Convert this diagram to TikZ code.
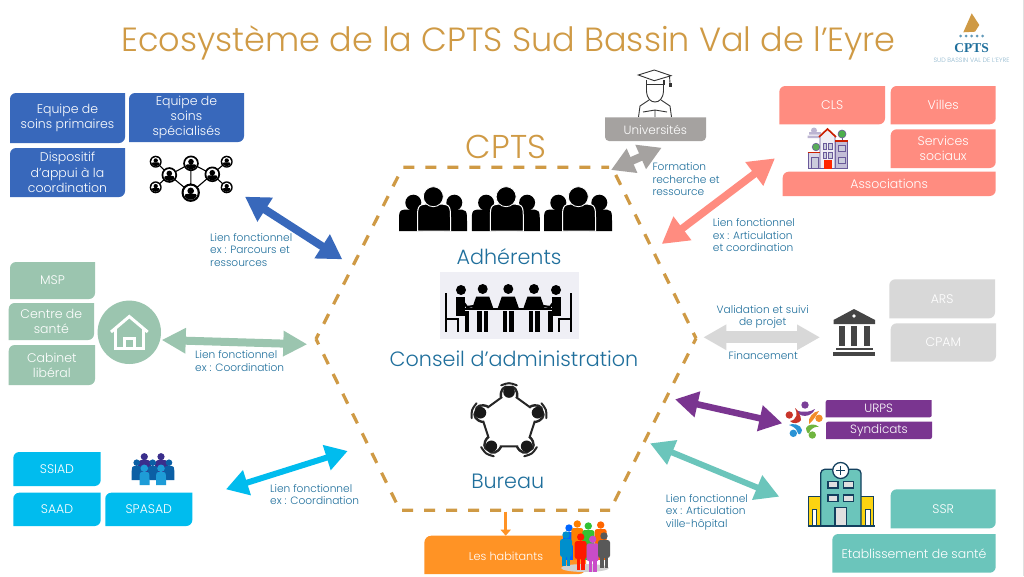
\documentclass[tikz,border=0pt]{standalone}
\usepackage{fontspec}
\setmainfont{Poppins Light}
\newfontfamily\logoserif{Liberation Serif}
\usetikzlibrary{arrows.meta}
\definecolor{gold}{HTML}{CF9A45}
\definecolor{labelblue}{HTML}{1F6F9C}
\definecolor{cblue}{HTML}{3868BB}
\definecolor{cgreen}{HTML}{9BC5AF}
\definecolor{ccyan}{HTML}{00BCEE}
\definecolor{cgrey}{HTML}{A5A2A0}
\definecolor{csalmon}{HTML}{FF8C80}
\definecolor{clight}{HTML}{D8D8D8}
\definecolor{cpurple}{HTML}{7A3590}
\definecolor{cteal}{HTML}{6BC5BB}
\definecolor{corange}{HTML}{FF9325}
\definecolor{bline}{HTML}{6A5A9A}
\definecolor{hnavy}{HTML}{13405E}
\definecolor{tablebg}{HTML}{EFEFF5}
\tikzset{
  lab/.style={text=labelblue,align=left,anchor=west,inner sep=0pt,font=\fontsize{10.6}{12.6}\selectfont},
  labc/.style={text=labelblue,align=center,inner sep=0pt,font=\fontsize{10.6}{12.6}\selectfont},
  boxtext/.style={text=white,align=center,inner sep=0pt,font=\fontsize{12.5}{15.3}\selectfont},
  bigtext/.style={text=labelblue,inner sep=0pt,font=\fontsize{20.7}{24}\selectfont},
  dbl/.style n args={4}{draw=#1,line width=#2pt,{Triangle[length=#3pt,width=#4pt,fill=#1]}-{Triangle[length=#3pt,width=#4pt,fill=#1]}},
  hexline/.style={draw=gold,line width=3.2pt,dash pattern=on 11pt off 11pt,dash phase=5pt}
}
\def\rr{6pt}
% diagonal-rounded box: name,x1,y1,x2,y2,colour,text
\newcommand\rbox[7]{%
  \fill[#6] (#2,#5) [rounded corners=\rr] -- (#2,#3) [sharp corners] -- (#4,#3) [rounded corners=\rr] -- (#4,#5) [sharp corners] -- cycle;
  \node[boxtext] (#1) at ({(#2+#4)/2},{(#3+#5)/2}) {#7};
}
% dome-shaped body: style,x1,x2,ytop,ybottom
\newcommand\bsh[5]{%
  \pgfmathsetmacro\bxa{#2}\pgfmathsetmacro\bxb{#3}\pgfmathsetmacro\byt{#4}\pgfmathsetmacro\byb{#5}%
  \pgfmathsetmacro\bym{\byt*0.4+\byb*0.6}\pgfmathsetmacro\bxm{(\bxa+\bxb)/2}%
  \path[#1] (\bxa,\byb) -- (\bxa,\bym) .. controls (\bxa,\byt) .. (\bxm,\byt) .. controls (\bxb,\byt) .. (\bxb,\bym) -- (\bxb,\byb) -- cycle;
}
\newcommand\netdisc[4]{%
  \fill[black] (#2,#3) circle [radius=#4];
  \fill[white] (#2,#3) circle [radius=0.76*#4];
  \begin{scope}
    \clip (#2,#3) circle [radius=0.76*#4];
    \fill[black] ({#2},{#3-0.2*#4}) circle [radius=0.36*#4];
    \bsh{fill=black}{#2-0.65*#4}{#2+0.65*#4}{#3+0.12*#4}{#3+0.8*#4}
  \end{scope}
}
\newcommand\trio{%
  \bsh{fill=black}{399}{423}{209.5}{231}
  \bsh{fill=black}{444}{467}{209.5}{231}
  \fill[black] (413.3,202.7) circle [radius=8];
  \fill[black] (454.3,202.7) circle [radius=8];
  \bsh{fill=black,draw=white,line width=1pt}{417.5}{450.5}{204}{231}
  \fill[black,draw=white,line width=0.8pt] (433.3,196.7) circle [radius=10];
}
\newcommand\tableperson[1]{%
  \fill[black] (#1,289) circle [radius=5];
  \fill[black] ({#1-10.5},308) -- ({#1-6.5},296.5) -- ({#1+6.5},296.5) -- ({#1+10.5},308) -- cycle;
  \fill[black] ({#1-5.5},311) rectangle ({#1-1},332);
  \fill[black] ({#1+1},311) rectangle ({#1+5.5},332);
}
\newcommand\sideperson{%
  \fill[black] (461,290) circle [radius=5];
  \fill[black] (456,297) rectangle (465,314);
  \draw[black,line width=2.2pt] (461,299) -- (467,307) -- (474,306);
  \fill[black] (456,311) rectangle (469,316);
  \fill[black] (464.5,313) rectangle (469,332);
  \draw[black,line width=2pt] (446,293) -- (446,332);
  \draw[black,line width=2pt] (446,319) -- (458,319) -- (458,332);
}
\newcommand\fig[4]{% x, head y, bottom y, colour
  \fill[#4] (#1,#2) circle [radius=3.7];
  \fill[#4,rounded corners=2.5pt] ({#1-6},{#2+4}) rectangle ({#1+6},{#2+22});
  \fill[#4] ({#1-4},{#2+18}) rectangle ({#1-0.5},#3);
  \fill[#4] ({#1+0.5},{#2+18}) rectangle ({#1+4},#3);
}
\begin{document}
\begin{tikzpicture}[x=1pt,y=-1pt]
\useasboundingbox (0,0) rectangle (1024,576);
\fill[white] (0,0) rectangle (1024,576);
\draw[black!12,line width=0.8pt] (1023,0) -- (1023,576);

% title
\node[text=gold,inner sep=0pt,font=\fontsize{33.5}{40}\selectfont] (title) at (508.5,43) {Ecosystème de la CPTS Sud Bassin Val de l’Eyre};

% logo
\fill[gold] (971.7,13.3) -- (963.3,32.3) -- (975,31.7) -- (979.3,25) -- cycle;
\foreach \dx in {960.5,966,971.5,977,982.5} \fill[labelblue!70] (\dx,36) circle [radius=1.5];
\node[text=labelblue,inner sep=0pt,font=\logoserif\bfseries\fontsize{13.5}{14}\selectfont] (logocpts) at (971.5,48.5) {CPTS};
\node[text=labelblue!50,inner sep=0pt,font=\fontsize{6.3}{7}\selectfont] (logosub) at (971.5,60) {SUD BASSIN VAL DE L’EYRE};

% hexagon
\coordinate (hexTL) at (402.7,167.3);
\coordinate (hexTR) at (609,167.3);
\coordinate (hexTRb) at (612,167.3);
\coordinate (hexR) at (696,338.3);
\coordinate (hexBR) at (610,510.3);
\coordinate (hexBL) at (400,510.3);
\coordinate (hexL) at (316,339);
\draw[hexline] (hexL) -- (hexTL) -- (hexTR);
\draw[hexline] (hexL) -- (hexBL) -- (hexBR);
\draw[hexline] (hexR) -- (hexTRb);
\draw[hexline] (hexR) -- (hexBR);

\node[text=gold,inner sep=0pt,font=\fontsize{33}{38}\selectfont] (cpts) at (506,146.5) {CPTS};

% members
\begin{scope}\trio\end{scope}
\begin{scope}[shift={(72.8,0)}]\trio\end{scope}
\begin{scope}[shift={(145,0)}]\trio\end{scope}
\node[bigtext] (adh) at (509,257) {Adhérents};

% board table
\fill[tablebg] (440,272) rectangle (579,339);
\tableperson{482.7}\tableperson{508.3}\tableperson{534}
\draw[black,line width=1.5pt] (462,309) -- (555,309);
\begin{scope}\sideperson\end{scope}
\begin{scope}[shift={(1017,0)},xscale=-1]\sideperson\end{scope}
\node[bigtext] (ca) at (514,359) {Conseil d’administration};

% bureau
\foreach \i/\a in {1/90,2/162,3/234,4/306,5/378}
  \coordinate (bp\i) at ({509+30*cos(\a)},{422-30*sin(\a)});
\draw[black!85,line width=2pt] (bp1) -- (bp2) -- (bp3) -- (bp4) -- (bp5) -- cycle;
\foreach \i/\a in {1/90,2/162,3/234,4/306,5/378}{
  \fill[white] (bp\i) circle [radius=8.5];
  \draw[black!85,line width=2pt,line cap=round] ({509+37.5*cos(\a-12)},{422-37.5*sin(\a-12)}) .. controls ({509+39.5*cos(\a)},{422-39.5*sin(\a)}) .. ({509+37.5*cos(\a+12)},{422-37.5*sin(\a+12)});
  \draw[black!85,line width=2.4pt] ({509+26*cos(\a-18)},{422-26*sin(\a-18)}) .. controls ({509+33*cos(\a-16)},{422-33*sin(\a-16)}) and ({509+37*cos(\a-8)},{422-37*sin(\a-8)}) .. ({509+35*cos(\a)},{422-35*sin(\a)}) .. controls ({509+37*cos(\a+8)},{422-37*sin(\a+8)}) and ({509+33*cos(\a+16)},{422-33*sin(\a+16)}) .. ({509+26*cos(\a+18)},{422-26*sin(\a+18)});
  \fill[black!90] (bp\i) circle [radius=5.8];
}
\node[bigtext] (bureau) at (507.7,481) {Bureau};

% inhabitants
\fill[corange] (424.3,574) [rounded corners=7pt] -- (424.3,535.7) [sharp corners] -- (586,535.7) [rounded corners=7pt] -- (586,574) [sharp corners] -- cycle;
\node[text=white,inner sep=0pt,font=\fontsize{11.3}{14}\selectfont] (hab) at (506,556) {Les habitants};
\coordinate (habTop) at (505.7,535.7);
\coordinate (hexBottom) at (505.7,511.5);
\draw[corange,line width=3pt,-{Triangle[length=6pt,width=10pt,fill=corange]}] (hexBottom) -- (habTop);
\fill[black!18] (585,568) ellipse [x radius=24,y radius=4];
\fig{569}{528}{560}{blue!60!cyan}
\fig{577.3}{524}{560}{orange}
\fig{588.3}{526}{560}{green!70!black!80}
\fig{600.7}{525}{560}{orange!80!red}
\fig{566}{535}{566}{blue!30!cyan!80!black}
\fig{580.7}{537}{570}{red!80!orange}
\fig{592.7}{539.3}{572}{violet!60!magenta!70!white}
\fig{604}{536}{568}{black!65}

% ---- left top
\rbox{bA}{10}{93}{125}{143}{cblue}{Equipe de\\soins primaires}
\rbox{bB}{129}{93}{244}{142}{cblue}{Equipe de\\soins\\spécialisés}
\rbox{bC}{10}{148}{125}{197}{cblue}{Dispositif\\d’appui à la\\coordination}
\coordinate (n1) at (155.7,161.7);
\coordinate (n2) at (169.3,175);
\coordinate (n3) at (191,163.3);
\coordinate (n4) at (212.3,174.3);
\coordinate (n5) at (226.7,161.7);
\coordinate (n6) at (226.7,187.3);
\coordinate (n7) at (155.7,187.3);
\coordinate (n8) at (190.7,192.7);
\draw[black,line width=1.1pt] (n1)--(n2)--(n3)--(n4)--(n5) (n7)--(n2)--(n8)--(n4)--(n6) (n3)--(n8);
\netdisc{n1}{155.7}{161.7}{6}
\netdisc{n7}{155.7}{187.3}{6}
\netdisc{n5}{226.7}{161.7}{6}
\netdisc{n6}{226.7}{187.3}{6}
\netdisc{n2}{169.3}{175}{7.8}
\netdisc{n4}{212.3}{174.3}{7.8}
\netdisc{n3}{191}{163.3}{7.8}
\netdisc{n8}{190.7}{192.7}{9.2}
\coordinate (aBlueA) at (245,196.7);
\coordinate (aBlueB) at (342.3,259.3);
\draw[dbl={cblue}{8}{24}{27}] (aBlueA) -- (aBlueB);
\node[lab] (lBlue) at (210,250) {Lien fonctionnel\\ex : Parcours et\\ressources};

% ---- left middle
\rbox{gA}{10}{262}{95}{299}{cgreen}{MSP}
\rbox{gB}{8.7}{303}{94}{340}{cgreen}{Centre de\\santé}
\rbox{gC}{8.7}{345}{95}{385}{cgreen}{Cabinet\\libéral}
\node[circle,fill=cgreen,minimum size=63.4pt,inner sep=0pt] (home) at (129.3,332.3) {};
\draw[white,line width=3pt] (111,332) -- (129.3,316.5) -- (147.7,332);
\draw[white,line width=3pt] (115.5,329) -- (115.5,348) -- (143,348) -- (143,329);
\draw[white,line width=3pt] (124.5,348) -- (124.5,338) -- (134,338) -- (134,348);
\coordinate (aGreenA) at (161.7,340);
\coordinate (aGreenB) at (307.3,344.3);
\draw[dbl={cgreen}{8}{24}{24}] (aGreenA) -- (aGreenB);
\node[lab] (lGreen) at (195,361.3) {Lien fonctionnel\\ex : Coordination};

% ---- left bottom
\rbox{cA}{13.3}{452}{100.7}{486}{ccyan}{SSIAD}
\rbox{cB}{13.3}{492.7}{100.7}{526}{ccyan}{SAAD}
\rbox{cC}{105.3}{492.7}{192.3}{526}{ccyan}{SPASAD}
\definecolor{pa}{HTML}{3A2E8C}\definecolor{pb}{HTML}{0B5FA5}\definecolor{pc}{HTML}{1E9CD7}
\fill[pa] (144.3,456.7) circle [radius=3.6];
\fill[pa] (161,456.7) circle [radius=3.6];
\bsh{fill=pa}{138}{151}{460}{476}
\bsh{fill=pa}{155}{168}{460}{476}
\fill[pb] (136.7,462.7) circle [radius=3.3];
\fill[pb] (152.7,462.7) circle [radius=3.3];
\fill[pb] (169,462.7) circle [radius=3.3];
\bsh{fill=pb}{131.7}{142}{466}{480}
\bsh{fill=pb}{147.5}{158}{466}{480}
\bsh{fill=pb}{164}{174.3}{466}{480}
\fill[pc] (144.3,468.3) circle [radius=3.8];
\fill[pc] (161,468.3) circle [radius=3.8];
\bsh{fill=pc}{139.5}{149.5}{472}{485}
\bsh{fill=pc}{156}{166}{472}{485}
\coordinate (aCyanA) at (226,489.3);
\coordinate (aCyanB) at (347.7,451);
\draw[dbl={ccyan}{6}{22}{25}] (aCyanA) -- (aCyanB);
\node[lab] (lCyan) at (270,494.6) {Lien fonctionnel\\ex : Coordination};

% ---- universities
\draw[black!80,line width=0.9pt,fill=white] (646.5,80) -- (646.5,91) .. controls (647,99) and (651,102) .. (655,102) .. controls (659,102) and (663,99) .. (663.5,91) -- (663.5,80);
\draw[black!80,line width=0.9pt] (649,100) -- (640,106) -- (638.5,117) (661,100) -- (670,106) -- (671.5,117);
\draw[black!80,line width=0.9pt] (643,112) -- (655,110) -- (667,112) (655,110) -- (655,117);
\draw[black!80,line width=0.9pt,fill=white] (638.3,75) -- (654.3,70) -- (671,75.7) -- (654.3,80.7) -- cycle;
\draw[black!80,line width=0.9pt] (646,80) -- (646,84) -- (664,84) -- (664,80);
\draw[black!80,line width=0.9pt] (669.5,76) -- (670,83);
\fill[black!80] (668.5,83) rectangle (671.5,87);
\fill[cgrey] (605,124) [rounded corners=0pt] -- (605,117.3) -- (706,117.3) [rounded corners=4pt] -- (706,141) -- (605,141) [sharp corners] -- cycle;
\node[text=white,inner sep=0pt,font=\fontsize{12}{14}\selectfont] (uni) at (655.3,130) {Universités};
\coordinate (aUniA) at (611,170);
\coordinate (aUniB) at (661.7,147.7);
\draw[dbl={cgrey}{8}{23}{25}] (aUniA) -- (aUniB);
\node[lab] (lUni) at (652.3,179.3) {Formation\\recherche et\\ressource};

% ---- salmon
\rbox{sA}{779.3}{86}{885}{124.3}{csalmon}{CLS}
\rbox{sB}{890.7}{86}{995.7}{124.3}{csalmon}{Villes}
\rbox{sC}{890.7}{129.3}{995.7}{168}{csalmon}{Services\\sociaux}
\rbox{sD}{782.7}{171.7}{995.7}{196}{csalmon}{Associations}
% town icon
\fill[bline!45] (809,132) rectangle (821,134.5) (807.5,135.5) rectangle (819,138);
\fill[bline!45] (814,130.5) circle [radius=3];
\draw[bline,fill=green!55!black!70!white,line width=0.6pt] (842,134) circle [radius=4];
\draw[bline,line width=0.8pt] (842,138) -- (842,141);
\draw[bline,fill=white!75!bline,line width=0.8pt] (808.5,152) rectangle (820,168.5);
\draw[bline,fill=white!60!bline,line width=0.8pt] (835,141) rectangle (847.5,168.5);
\draw[bline,fill=white!90!bline,line width=0.8pt] (820,136) -- (827.5,129) -- (835,136) -- (835,168.5) -- (820,168.5) -- cycle;
\draw[red!70!orange!80!black,line width=1.6pt] (819,137) -- (827.5,129) -- (836,137);
\draw[red!70!orange!80!black,line width=1.4pt] (807.5,152.5) -- (820,152.5) (835,141) -- (848,141);
\draw[bline,fill=green!50!black!65!white,line width=0.6pt] (816,147) circle [radius=3.8];
\draw[bline,fill=cyan!15!bline!35!white,line width=0.6pt] (823,143) rectangle (826.5,149) (828.5,143) rectangle (832,149) (823,152) rectangle (826.5,158) (828.5,152) rectangle (832,158) (838,145) rectangle (845,151) (838,157) rectangle (845,163) (811,157) rectangle (818,168);
\fill[red!70!orange] (824,160) rectangle (831.5,168.5);
\coordinate (aSalA) at (775,158.3);
\coordinate (aSalB) at (661.7,244);
\draw[dbl={csalmon}{7.5}{26}{28}] (aSalA) -- (aSalB);
\node[lab] (lSal) at (712.7,235.3) {Lien fonctionnel\\ex : Articulation\\et coordination};

% ---- institutions
\rbox{iA}{889.3}{279.3}{995}{318.3}{clight}{ARS}
\rbox{iB}{890.7}{323.3}{996}{361.7}{clight}{CPAM}
\coordinate (aInstA) at (703.3,337.3);
\coordinate (aInstB) at (820,337.3);
\draw[dbl={clight}{12}{23}{24}] (aInstA) -- (aInstB);
\node[labc] (lValid) at (762.7,317) {Validation et suivi\\de projet};
\node[labc] (lFin) at (763.3,356) {Financement};
\fill[black!73] (854,309) -- (875,320) -- (875,324) -- (833.5,324) -- (833.5,320) -- cycle;
\fill[white] (854,316) circle [radius=1.8];
\fill[black!73] (838.5,326) rectangle (844.5,346);
\fill[black!73] (851,326) rectangle (857,346);
\fill[black!73] (864,326) rectangle (870,346);
\fill[black!73] (836,347.5) rectangle (873,350);
\fill[black!73] (833.3,352) rectangle (875,356);

% ---- unions
\def\rr{2pt}
\rbox{uA}{825.7}{400}{931.7}{417.3}{cpurple}{\fontsize{12}{14}\selectfont URPS}
\rbox{uB}{826}{421.7}{932}{439}{cpurple}{\fontsize{12}{14}\selectfont Syndicats}
\def\rr{6pt}
\coordinate (aPurA) at (675,399.3);
\coordinate (aPurB) at (782.3,423.3);
\draw[dbl={cpurple}{6.5}{23}{25}] (aPurA) -- (aPurB);
\definecolor{ua}{HTML}{7B3F98}\definecolor{ub}{HTML}{F28C28}\definecolor{uc}{HTML}{6FB53F}\definecolor{ud}{HTML}{2A93D5}\definecolor{ue}{HTML}{C8352B}
\fill[ua] (805,405) circle [radius=3.7];
\fill[ub] (819,418.3) circle [radius=3.7];
\fill[uc] (812.3,435) circle [radius=3.7];
\fill[ud] (793.3,433.3) circle [radius=3.7];
\fill[ue] (789.3,415) circle [radius=3.7];
\fill[ua] (796,410) .. controls (799,418) and (811,418) .. (815,409) .. controls (811,412) and (801,413) .. (796,410) -- cycle;
\fill[ub] (819,411) .. controls (814,411) and (807,418) .. (809,424) .. controls (812,422) and (816,416) .. (819,411) -- cycle;
\fill[uc] (819,427) .. controls (815,423) and (808,424) .. (806,428) .. controls (806,430) and (808,437) .. (810,431) .. controls (812,428) and (816,426) .. (819,427) -- cycle;
\fill[ud] (789,425) .. controls (792,423) and (801,424) .. (802,430) .. controls (801,434) and (799,437) .. (797,431) .. controls (796,428) and (792,426) .. (789,425) -- cycle;
\fill[ue] (790,421) .. controls (792,424) and (799,424) .. (801,420) .. controls (801,416) and (798,410) .. (795,408) .. controls (798,413) and (797,420) .. (790,421) -- cycle;

% ---- hospital
\rbox{hA}{890.7}{489.3}{995.7}{528.3}{cteal}{SSR}
\rbox{hB}{832.3}{534}{995.7}{572.7}{cteal}{Etablissement de santé}
\coordinate (aHosA) at (650,443.3);
\coordinate (aHosB) at (779.3,496.7);
\draw[dbl={cteal}{6}{24}{25}] (aHosA) -- (aHosB);
\node[lab] (lHos) at (665.7,512) {Lien fonctionnel\\ex : Articulation\\ville-hôpital};
\draw[hnavy,fill=yellow!70!orange!95,line width=1.3pt] (808.5,526) -- (808.5,496.7) -- (873.7,496.7) -- (873.7,526) -- cycle;
\draw[hnavy,fill=cteal,line width=1.3pt] (820.7,526) -- (820.7,475) [rounded corners=4pt] -- (820.7,469.3) -- (861,469.3) [sharp corners] -- (861,526) -- cycle;
\draw[hnavy,fill=white,line width=1.3pt] (840.7,470.5) circle [radius=8];
\draw[hnavy,line width=1.4pt] (836,470.5) -- (845.4,470.5) (840.7,465.8) -- (840.7,475.2);
\draw[hnavy,fill=black!12,line width=1.2pt] (828,481.7) rectangle (838,488) (843.5,481.7) rectangle (853.5,488) (828,495) rectangle (838,501.5) (843.5,495) rectangle (853.5,501.5);
\draw[hnavy,fill=black!12,line width=1.2pt] (835,526) rectangle (846.7,507.5);
\draw[hnavy,fill=white,line width=1pt] (812,526) rectangle (816.5,509) (865.5,526) rectangle (870,509);
\draw[hnavy,line width=1.5pt] (807.5,526) -- (874.5,526);
\end{tikzpicture}
\end{document}
